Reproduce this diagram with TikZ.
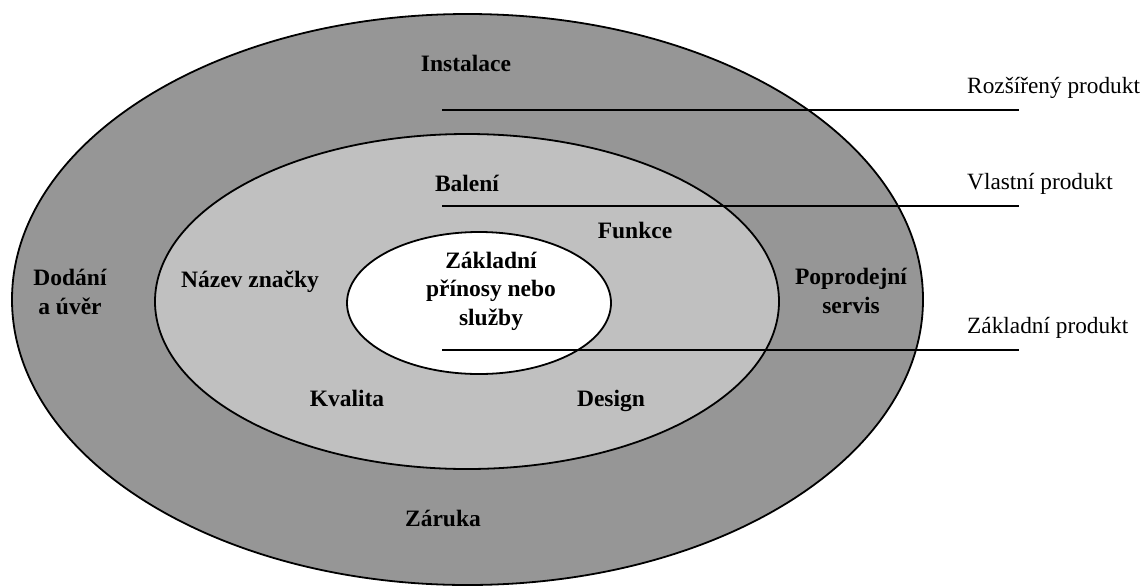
\documentclass[tikz,border=0pt]{standalone}
\usepackage{fontspec}
\setmainfont{Liberation Serif}
\begin{document}
\begin{tikzpicture}[x=1pt,y=-1pt,
  ring/.style={draw=black,line width=1.8pt},
  guide/.style={draw=black,line width=1.8pt},
  lbl/.style={font=\fontsize{23.5}{28.5}\selectfont\bfseries,inner sep=0pt,align=center,anchor=base},
  side/.style={font=\fontsize{23.3}{28}\selectfont,inner sep=0pt,anchor=base west}]
\useasboundingbox (0,0) rectangle (1147,587);
\fill[white] (0,0) rectangle (1147,587);
% rings
\filldraw[ring,fill={rgb,255:red,150;green,150;blue,150}] (467.5,299.5) ellipse [x radius=455.5,y radius=285.5];
\filldraw[ring,fill={rgb,255:red,192;green,192;blue,192}] (467,301.5) ellipse [x radius=312,y radius=167.5];
\filldraw[ring,fill=white] (479,303) ellipse [x radius=132,y radius=71];
% guide lines
\coordinate (a1) at (442,110); \coordinate (b1) at (1019,110);
\coordinate (a2) at (442,206); \coordinate (b2) at (1019,206);
\coordinate (a3) at (442,350); \coordinate (b3) at (1019,350);
\draw[guide] (a1) -- (b1);
\draw[guide] (a2) -- (b2);
\draw[guide] (a3) -- (b3);
% labels (multi-line nodes: base = last line's baseline)
\node[lbl] (instalace) at (466,71) {Instalace};
\node[lbl] (baleni) at (467,191) {Balení};
\node[lbl] (funkce) at (635,238) {Funkce};
\node[lbl] (zakl) at (491,325) {Základní\\přínosy nebo\\služby};
\node[lbl] (nazev) at (250,287) {Název značky};
\node[lbl] (kvalita) at (347,406) {Kvalita};
\node[lbl] (design) at (611,406) {Design};
\node[lbl] (dodani) at (70,314) {Dodání\\a úvěr};
\node[lbl] (poprod) at (851,313) {Poprodejní\\servis};
\node[lbl] (zaruka) at (443,526) {Záruka};
\node[side] (rozs) at (967,93) {Rozšířený produkt};
\node[side] (vlast) at (967,189) {Vlastní produkt};
\node[side] (zakp) at (967,333) {Základní produkt};
\end{tikzpicture}
\end{document}
